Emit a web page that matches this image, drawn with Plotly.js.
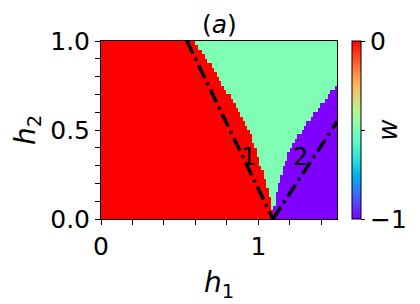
<!DOCTYPE html>
<html>
<head>
<meta charset="utf-8">
<script src="https://cdn.plot.ly/plotly-3.0.1.min.js"></script>
<style>html,body{margin:0;padding:0;background:#fff;}#chart{width:420px;height:304px;}</style>
</head>
<body>
<div id="chart"></div>
<script>
// Heatmap grid (h1 columns, h2 rows)
const h1Start = 0.0075, h1Step = 0.015, h1Count = 100;
const h2Start = 0.0125, h2Step = 0.025;
// For each h2 row (bottom to top): h1 where red (w=0) ends -> green (w=-0.5)
const redEdge = [1.095,1.09,1.085,1.08,1.075,1.07,1.065,1.055,1.045,1.04,
                 1.03,1.02,1.01,1.0,0.995,0.985,0.975,0.965,0.955,0.94,
                 0.93,0.915,0.90,0.885,0.87,0.85,0.835,0.82,0.80,0.785,
                 0.77,0.75,0.735,0.715,0.70,0.68,0.66,0.64,0.62,0.60];
// h1 where green ends -> purple (w=-1)
const greenEdge = [1.095,1.10,1.10,1.105,1.11,1.115,1.12,1.125,1.135,1.14,
                   1.15,1.16,1.17,1.18,1.19,1.205,1.22,1.235,1.25,1.27,
                   1.29,1.31,1.33,1.355,1.38,1.40,1.42,1.44,1.46,1.48,
                   1.50,1.6,1.6,1.6,1.6,1.6,1.6,1.6,1.6,1.6];
const phaseValues = [0, -0.5, -1];
// Dash-dot boundary lines
const line1X = [0.546, 1.093], line1Y = [1.0, 0.0];
const line2X = [1.093, 1.5],  line2Y = [0.0, 0.546];
const labelText = ['1', '2'], labelX = [0.935, 1.27], labelY = [0.35, 0.35];

const z = redEdge.map((r, j) => {
  const row = [];
  for (let i = 0; i < h1Count; i++) {
    const x = h1Start + i * h1Step;
    row.push(x < r ? phaseValues[0] : (x < greenEdge[j] ? phaseValues[1] : phaseValues[2]));
  }
  return row;
});

// matplotlib 'rainbow' colormap
const cs = [];
for (let k = 0; k <= 20; k++) {
  const t = k / 20;
  const r = Math.min(1, Math.abs(2 * t - 0.5));
  const g = Math.max(0, Math.sin(Math.PI * t));
  const b = Math.max(0, Math.cos(Math.PI * t / 2));
  cs.push([t, `rgb(${Math.round(r*255)},${Math.round(g*255)},${Math.round(b*255)})`]);
}

const F = 'DejaVu Sans';
const traces = [
  {type: 'heatmap', z: z, x0: h1Start, dx: h1Step, y0: h2Start, dy: h2Step,
   zmin: -1, zmax: 0, colorscale: cs, zsmooth: false, hoverinfo: 'skip',
   colorbar: {x: 1.062, xanchor: 'left', xpad: 0, ypad: 0, y: 0.5, yanchor: 'middle',
     len: 1, lenmode: 'fraction', thickness: 9, outlinecolor: '#000', outlinewidth: 1,
     tickvals: [-1, -0.5, 0], ticktext: ['\u22121', '', '0'], ticks: 'outside', ticklen: 4,
     tickcolor: '#000', tickfont: {family: F, size: 25, color: '#000'},
     title: {text: '<i>w</i>', side: 'right', font: {family: F, size: 26, color: '#000'}}}},
  {type: 'scatter', mode: 'lines', x: line1X, y: line1Y, line: {color: '#000', width: 3.5, dash: '14px,5px,3px,5px'}, hoverinfo: 'skip'},
  {type: 'scatter', mode: 'lines', x: line2X, y: line2Y, line: {color: '#000', width: 3.5, dash: '14px,5px,3px,5px'}, hoverinfo: 'skip'}
];

const annotations = labelText.map((t, k) => ({x: labelX[k], y: labelY[k], xref: 'x', yref: 'y', text: t, showarrow: false,
    font: {family: F, size: 24, color: '#000'}}));
annotations.push({x: 0.5, y: 1.095, xref: 'paper', yref: 'paper', xanchor: 'center', yanchor: 'middle',
  text: '(<i>a</i>)', showarrow: false, font: {family: F, size: 25, color: '#000'}});

const layout = {
  width: 420, height: 304, showlegend: false,
  margin: {l: 101, r: 83, t: 41, b: 85},
  paper_bgcolor: '#fff', plot_bgcolor: '#fff',
  xaxis: {range: [0, 1.5], tickvals: [0, 1], ticktext: ['0', '1'], ticks: 'outside', ticklen: 5, tickcolor: '#000',
    showline: true, mirror: true, linecolor: '#000', linewidth: 1, showgrid: false, zeroline: false,
    minor: {tickvals: [0.2, 0.4, 0.6, 0.8, 1.2, 1.4], ticks: 'outside', ticklen: 5, tickcolor: '#000', showgrid: false},
    tickfont: {family: F, size: 25, color: '#000'},
    title: {text: '<i>h</i><sub>1</sub>', font: {family: F, size: 28, color: '#000'}, standoff: 12}},
  yaxis: {range: [0, 1], tickvals: [0, 0.5, 1], ticktext: ['0.0', '0.5', '1.0'], ticks: 'outside', ticklen: 5, tickcolor: '#000',
    showline: true, mirror: true, linecolor: '#000', linewidth: 1, showgrid: false, zeroline: false,
    minor: {tickvals: [0.1, 0.2, 0.3, 0.4, 0.6, 0.7, 0.8, 0.9], ticks: 'outside', ticklen: 5, tickcolor: '#000', showgrid: false},
    tickfont: {family: F, size: 25, color: '#000'},
    title: {text: '<i>h</i><sub>2</sub>', font: {family: F, size: 28, color: '#000'}, standoff: 6}},
  annotations: annotations
};

Plotly.newPlot('chart', traces, layout, {staticPlot: true, displayModeBar: false});
</script>
</body>
</html>
